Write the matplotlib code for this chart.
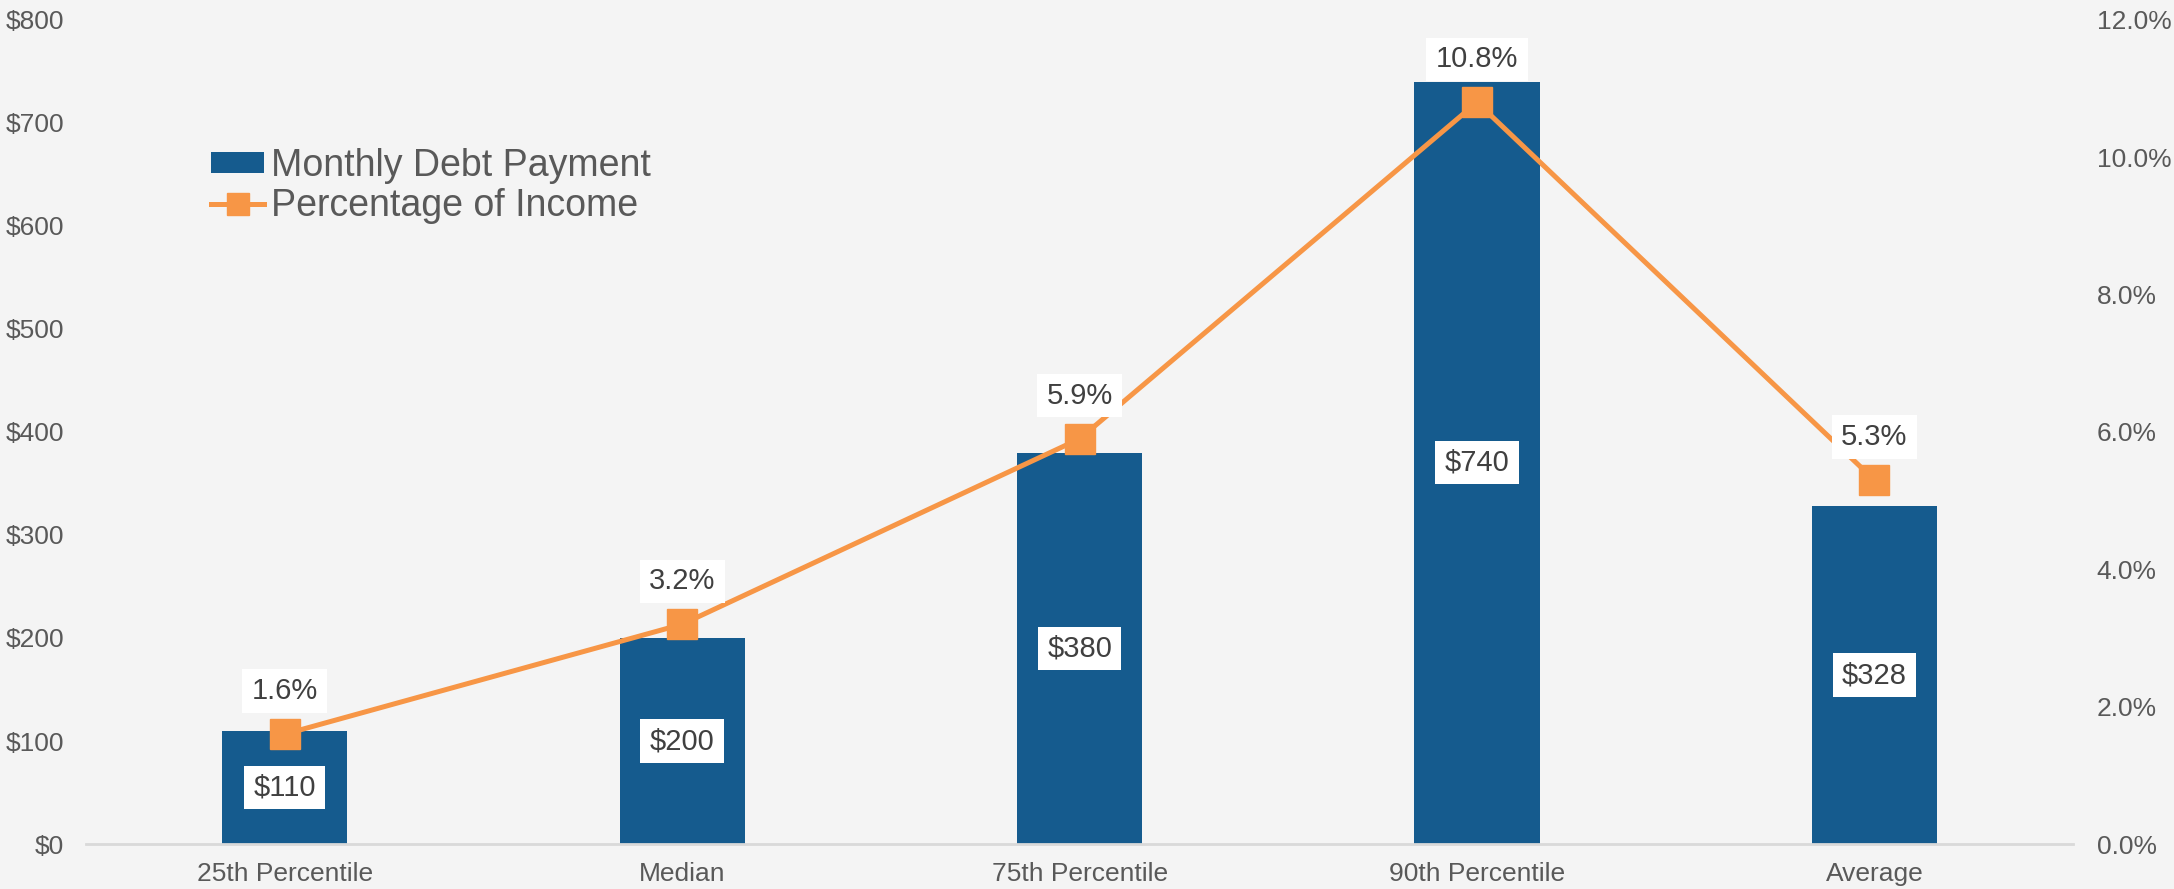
import matplotlib.pyplot as plt
from matplotlib.path import Path
from matplotlib.ticker import FuncFormatter

# chart data
categories = ['25th Percentile', 'Median', '75th Percentile', '90th Percentile', 'Average']
payments = [110, 200, 380, 740, 328]
pct_income = [1.6, 3.2, 5.9, 10.8, 5.3]

plt.rcParams['font.family'] = ['Liberation Sans', 'DejaVu Sans']

bg = '#f4f4f4'
bar_color = '#155b8e'
line_color = '#f79646'
tick_color = '#595959'
label_color = '#404040'


# white label box, a bit more padding left/right than top/bottom
def label_box(x0, y0, width, height, mutation_size):
    px = 0.32 * mutation_size
    py = 0.26 * mutation_size
    x0, y0 = x0 - px, y0 - py
    x1, y1 = x0 + width + 2 * px, y0 + height + 2 * py
    return Path([(x0, y0), (x1, y0), (x1, y1), (x0, y1), (x0, y0)], closed=True)


box = dict(boxstyle=label_box, fc='white', ec='none')

fig = plt.figure(figsize=(21.74, 8.89), dpi=100, facecolor=bg)
ax = fig.add_axes([0.0396, 0.0506, 0.914, 0.927])
ax.set_facecolor(bg)
x = list(range(len(categories)))

bars = ax.bar(x, payments, width=0.315, color=bar_color, label='Monthly Debt Payment', zorder=2)
ax.set_ylim(0, 800)
ax.set_xlim(-0.5, len(categories) - 0.5)
ax.set_yticks(range(0, 801, 100))
ax.yaxis.set_major_formatter(FuncFormatter(lambda v, p: f'${v:,.0f}'))
ax.set_xticks(x)
ax.set_xticklabels(categories)
ax.tick_params(axis='both', length=0, labelcolor=tick_color, labelsize=19)
ax.tick_params(axis='y', pad=16)
ax.tick_params(axis='x', pad=13)
for s in ['top', 'right', 'left']:
    ax.spines[s].set_visible(False)
ax.spines['bottom'].set_color('#d9d9d9')
ax.spines['bottom'].set_linewidth(2)

# bar value labels in middle of bars
for xi, v in zip(x, payments):
    ax.text(xi, v / 2, f'${v}', ha='center', va='center', fontsize=21, color=label_color,
            bbox=box, zorder=5)

ax2 = ax.twinx()
ax2.set_ylim(0, 12)
ax2.set_yticks(range(0, 13, 2))
ax2.yaxis.set_major_formatter(FuncFormatter(lambda v, p: f'{v:.1f}%'))
ax2.tick_params(axis='y', length=0, labelsize=19, labelcolor=tick_color, pad=17)
for s in ax2.spines.values():
    s.set_visible(False)

line, = ax2.plot(x, pct_income, color=line_color, lw=3.6, marker='s', markersize=22,
                 label='Percentage of Income', zorder=3)
for xi, v in zip(x, pct_income):
    ax2.annotate(f'{v:.1f}%', (xi, v), xytext=(0, 31), textcoords='offset points',
                 ha='center', va='center', fontsize=21, color=label_color,
                 bbox=box, zorder=5)

leg = ax2.legend([bars, line], ['Monthly Debt Payment', 'Percentage of Income'],
                 loc='center left', bbox_to_anchor=(0.063, 0.7985), frameon=False,
                 fontsize=27, labelcolor=tick_color, handlelength=1.4, handleheight=0.5,
                 handletextpad=0.2, labelspacing=0.12, borderaxespad=0, borderpad=0,
                 markerscale=0.72)
ax.set_zorder(ax2.get_zorder() - 1)
ax.patch.set_visible(True)
ax2.patch.set_visible(False)

fig.savefig('out.png', dpi=100, facecolor=bg)
